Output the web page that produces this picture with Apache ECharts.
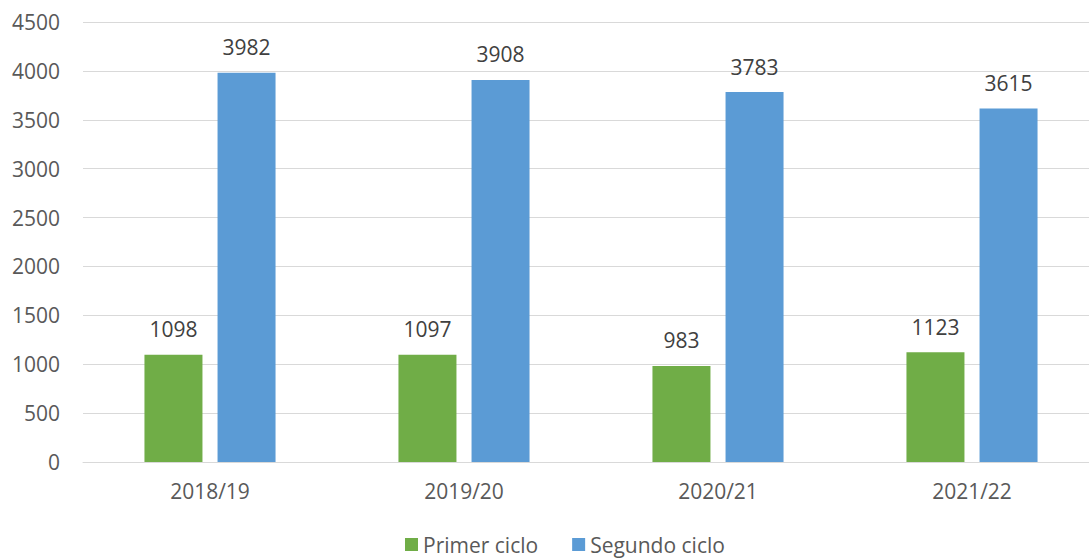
<!DOCTYPE html>
<html>
<head>
<meta charset="utf-8">
<script src="https://cdn.jsdelivr.net/npm/echarts@6/dist/echarts.min.js"></script>
<style>
  html, body { margin: 0; padding: 0; background: #fff; }
  #chart { width: 1089px; height: 559px; }
</style>
</head>
<body>
<div id="chart"></div>
<script>
var categories = ["2018/19", "2019/20", "2020/21", "2021/22"];
var primerCiclo = [1098, 1097, 983, 1123];
var segundoCiclo = [3982, 3908, 3783, 3615];

var myChart = echarts.init(document.getElementById("chart"), null, { renderer: "svg" });
var font = "'Open Sans', sans-serif";
var option = {
  animation: false,
  textStyle: { fontFamily: font },
  grid: { left: 83, width: 1016, top: 22, height: 440, outerBoundsMode: "none", containLabel: false },
  legend: {
    bottom: -1,
    left: 400,
    itemWidth: 13,
    itemHeight: 13,
    itemGap: 34,
    icon: "rect",
    textStyle: { fontSize: 21, color: "#595959", fontFamily: font },
    data: ["Primer ciclo", "Segundo ciclo"]
  },
  xAxis: {
    type: "category",
    data: categories,
    axisTick: { show: false },
    axisLine: { lineStyle: { color: "#d9d9d9", width: 1 } },
    axisLabel: { fontSize: 21, color: "#595959", margin: 18, fontFamily: font }
  },
  yAxis: {
    type: "value",
    min: 0,
    max: 4500,
    interval: 500,
    axisLine: { show: false },
    axisTick: { show: false },
    splitLine: { lineStyle: { color: "#d9d9d9", width: 1 } },
    axisLabel: {
      fontSize: 21, color: "#595959", margin: 23, fontFamily: font,
      formatter: function (v) { return String(v); }
    }
  },
  series: [
    {
      name: "Primer ciclo",
      type: "bar",
      data: primerCiclo,
      barWidth: 58,
      barGap: "26%",
      itemStyle: { color: "#70AD47" },
      label: { show: true, position: "top", distance: 15, fontSize: 21, color: "#404040", fontFamily: font }
    },
    {
      name: "Segundo ciclo",
      type: "bar",
      data: segundoCiclo,
      barWidth: 58,
      barGap: "26%",
      itemStyle: { color: "#5B9BD5" },
      label: { show: true, position: "top", distance: 15, fontSize: 21, color: "#404040", fontFamily: font }
    }
  ]
};
option && myChart.setOption(option);
</script>
</body>
</html>
